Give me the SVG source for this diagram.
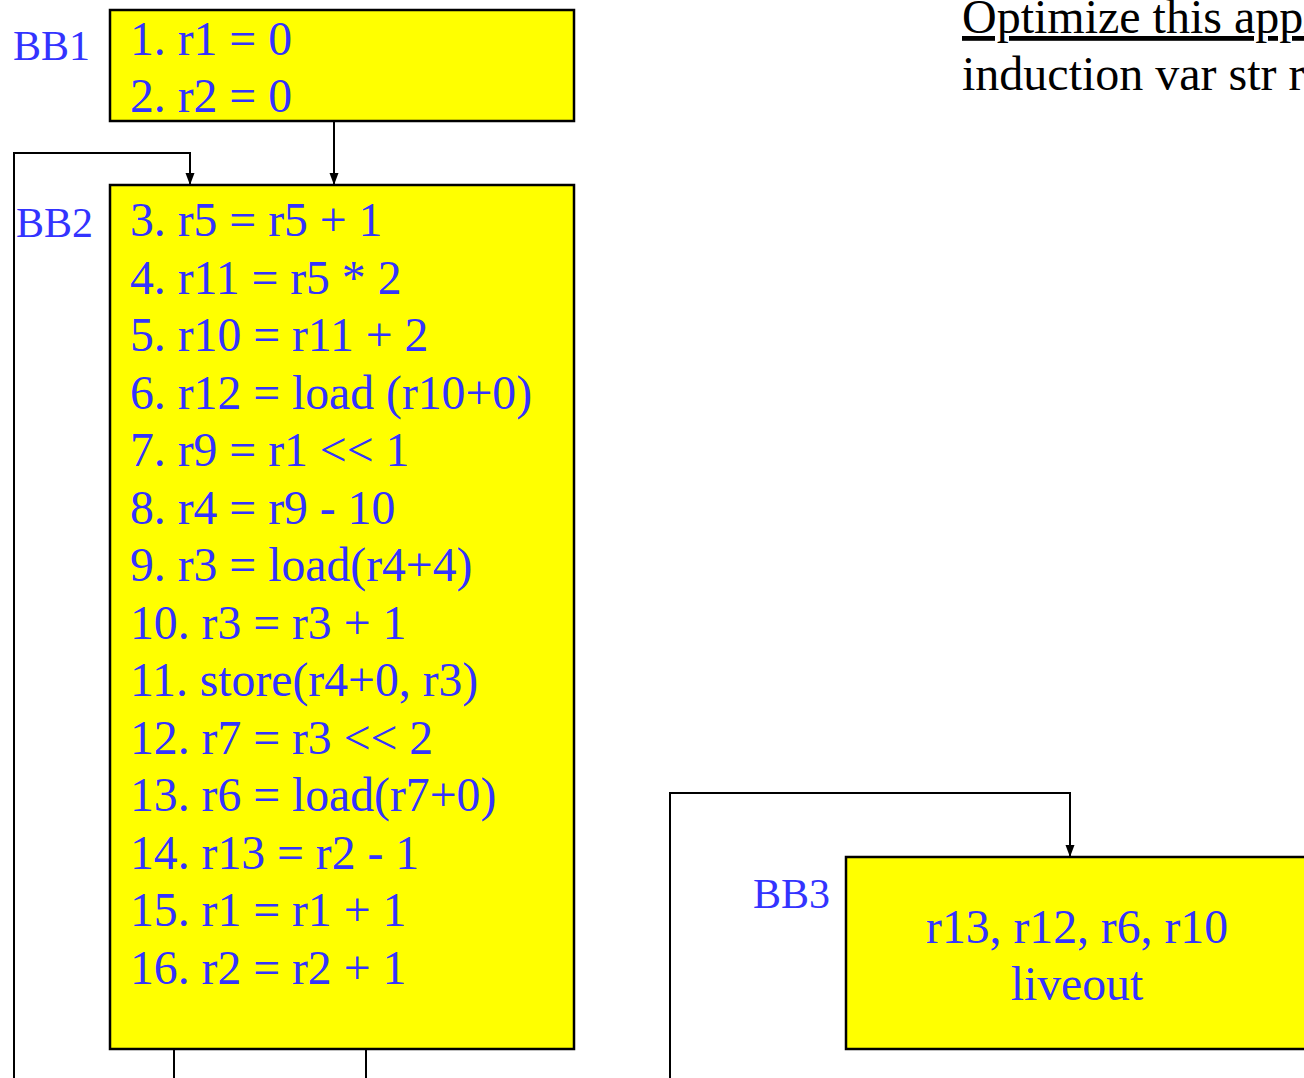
<svg xmlns="http://www.w3.org/2000/svg" width="1304" height="1078" viewBox="0 0 1304 1078">
  <style>
    .blk { fill: #ffff00; stroke: #000; stroke-width: 2.5; }
    .code { font-family: "Liberation Serif", "Times New Roman", serif; font-size: 47.7px; fill: #3333ff; }
    .lbl { font-family: "Liberation Serif", "Times New Roman", serif; font-size: 42px; fill: #3333ff; }
    .note { font-family: "Liberation Serif", "Times New Roman", serif; font-size: 48px; fill: #000; }
    .edge { fill: none; stroke: #000; stroke-width: 2; }
  </style>
  <defs>
    <marker id="arrow" markerWidth="12" markerHeight="12" refX="11" refY="6" orient="auto" markerUnits="userSpaceOnUse">
      <path d="M0,1.5 L12,6 L0,10.5 Z" fill="#000"/>
    </marker>
  </defs>
  <rect width="1304" height="1078" fill="#fff"/>

  <!-- control-flow edges -->
  <g id="connectors">
    <path class="edge" d="M334,121 V184" marker-end="url(#arrow)"/>
    <path class="edge" d="M14,1078 V153 H190 V184" marker-end="url(#arrow)"/>
    <path class="edge" d="M174,1049 V1078"/>
    <path class="edge" d="M366,1049 V1078"/>
    <path class="edge" d="M670,1078 V793 H1070 V856" marker-end="url(#arrow)"/>
  </g>

  <!-- basic block 1 -->
  <g id="BB1">
    <rect class="blk" x="110" y="10" width="464" height="111"/>
    <text class="lbl" x="13" y="60">BB1</text>
    <text class="code" x="130" y="55">1. r1 = 0</text>
    <text class="code" x="130" y="112">2. r2 = 0</text>
  </g>

  <!-- basic block 2: loop body -->
  <g id="BB2">
    <rect class="blk" x="110" y="185" width="464" height="864"/>
    <text class="lbl" x="16" y="237">BB2</text>
    <text class="code" x="130" y="236">3. r5 = r5 + 1</text>
    <text class="code" x="130" y="293.5">4. r11 = r5 * 2</text>
    <text class="code" x="130" y="351">5. r10 = r11 + 2</text>
    <text class="code" x="130" y="408.5">6. r12 = load (r10+0)</text>
    <text class="code" x="130" y="466">7. r9 = r1 &lt;&lt; 1</text>
    <text class="code" x="130" y="523.5">8. r4 = r9 - 10</text>
    <text class="code" x="130" y="581">9. r3 = load(r4+4)</text>
    <text class="code" x="130" y="638.5">10. r3 = r3 + 1</text>
    <text class="code" x="130" y="696">11. store(r4+0, r3)</text>
    <text class="code" x="130" y="753.5">12. r7 = r3 &lt;&lt; 2</text>
    <text class="code" x="130" y="811">13. r6 = load(r7+0)</text>
    <text class="code" x="130" y="868.5">14. r13 = r2 - 1</text>
    <text class="code" x="130" y="926">15. r1 = r1 + 1</text>
    <text class="code" x="130" y="983.5">16. r2 = r2 + 1</text>
  </g>

  <!-- basic block 3: exit -->
  <g id="BB3">
    <rect class="blk" x="846" y="857" width="464" height="192"/>
    <text class="lbl" x="753" y="908">BB3</text>
    <text class="code" x="1077" y="943" text-anchor="middle">r13, r12, r6, r10</text>
    <text class="code" x="1077" y="1000" text-anchor="middle">liveout</text>
  </g>

  <!-- task note -->
  <g id="note">
    <text class="note" x="962" y="33" text-decoration="underline">Optimize this appl</text>
    <text class="note" x="962" y="90">induction var str r</text>
  </g>
</svg>
